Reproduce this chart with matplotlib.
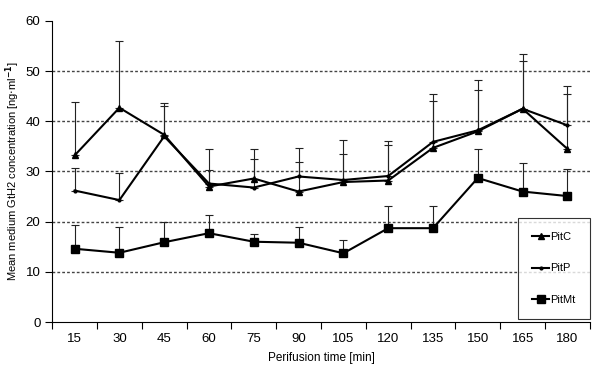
import numpy as np
import matplotlib.pyplot as plt

plt.rcParams['font.family'] = ['Liberation Sans', 'DejaVu Sans']

times = [15, 30, 45, 60, 75, 90, 105, 120, 135, 150, 165, 180]

pit_c = [33.2, 42.7, 37.3, 27.0, 28.6, 26.0, 27.9, 28.2, 34.7, 38.0, 42.5, 34.5]
pit_c_err = [10.7, 13.3, 6.4, 7.5, 5.8, 8.6, 8.3, 7.9, 10.7, 10.2, 11.0, 12.6]

pit_p = [26.2, 24.3, 37.0, 27.6, 26.8, 29.0, 28.3, 29.1, 35.9, 38.2, 42.5, 39.2]
pit_p_err = [4.4, 5.3, 6.0, 2.7, 5.6, 2.9, 5.2, 6.2, 8.2, 8.0, 9.6, 6.2]

pit_mt = [14.6, 13.8, 15.9, 17.7, 16.0, 15.8, 13.7, 18.7, 18.7, 28.7, 26.0, 25.1]
pit_mt_err = [4.8, 5.2, 4.0, 3.6, 1.6, 3.2, 2.7, 4.5, 4.5, 5.7, 5.6, 5.3]

x = np.arange(1, len(times) + 1)

fig = plt.figure(figsize=(6.0, 3.74), dpi=100)
ax = fig.add_axes([0.087, 0.139, 0.896, 0.805])

# horizontal dotted grid
for g in [10, 20, 30, 40, 50]:
    ax.axhline(g, color="#444444", lw=1.0, ls=(0, (2, 1.5)), zorder=0)

err_style = dict(fmt="none", ecolor="#222222", elinewidth=0.8, capsize=3, capthick=0.8)
ax.errorbar(x, pit_c, yerr=[np.zeros(len(x)), pit_c_err], **err_style)
ax.errorbar(x, pit_p, yerr=[np.zeros(len(x)), pit_p_err], **err_style)
ax.errorbar(x, pit_mt, yerr=[np.zeros(len(x)), pit_mt_err], **err_style)

ax.plot(x, pit_c, color="black", lw=1.5, marker="^", ms=4, label="PitC", zorder=3)
ax.plot(x, pit_p, color="black", lw=1.5, marker="o", ms=2, label="PitP", zorder=3)
ax.plot(x, pit_mt, color="black", lw=1.5, marker="s", ms=5.5, label="PitMt", zorder=3)

ax.set_xlim(0.5, len(times) + 0.5)
ax.set_ylim(0, 60)
ax.set_yticks(range(0, 61, 10))
ax.set_xticks(np.arange(0.5, len(times) + 1))
ax.set_xticklabels([])
ax.set_xticks(x, minor=True)
ax.set_xticklabels([str(t) for t in times], minor=True)
ax.tick_params(axis="x", which="minor", length=0, pad=8, labelsize=9.5)
ax.tick_params(axis="x", which="major", length=5, direction="out", width=0.8)
ax.tick_params(axis="y", length=5, direction="out", width=0.8, labelsize=9.5)

for s in ["top", "right"]:
    ax.spines[s].set_visible(False)
for s in ["left", "bottom"]:
    ax.spines[s].set_linewidth(0.8)

ax.set_xlabel("Perifusion time [min]", fontsize=8.5, labelpad=5)
ax.set_ylabel(r"Mean medium GtH2 concentration [ng$\cdot$ml$^{\mathbf{-1}}$]", fontsize=8)
ax.yaxis.set_label_coords(-0.056, 0.5)

leg = ax.legend(loc="lower right", bbox_to_anchor=(1.0, 0.01), frameon=True, fancybox=False,
                edgecolor="black", fontsize=8, handlelength=1.5, handletextpad=0.1,
                labelspacing=1.9, borderpad=1.3, borderaxespad=0)
leg.get_frame().set_linewidth(0.8)
leg.set_zorder(5)

fig.savefig("out.png", dpi=100)
